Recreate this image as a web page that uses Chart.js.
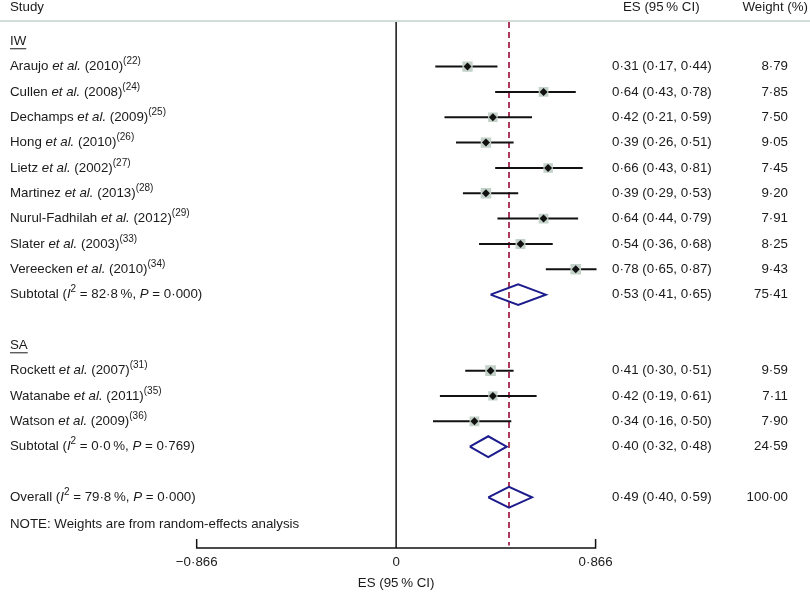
<!DOCTYPE html>
<html>
<head>
<meta charset="utf-8">
<script src="https://cdn.jsdelivr.net/npm/chart.js@4.4.1/dist/chart.umd.min.js"></script>
<style>
  body { margin: 0; background: #fff; }
  canvas { display: block; }
</style>
</head>
<body>
<canvas id="forest" width="810" height="592"></canvas>
<script>
"use strict";

// study level data
const studies = ["Araujo", "Cullen", "Dechamps", "Hong", "Lietz", "Martinez", "Nurul-Fadhilah", "Slater", "Vereecken", "Rockett", "Watanabe", "Watson"];
const years = ["2010", "2008", "2009", "2010", "2002", "2013", "2012", "2003", "2010", "2007", "2011", "2009"];
const refs = ["22", "24", "25", "26", "27", "28", "29", "33", "34", "31", "35", "36"];
const studyGroup = ["IW", "IW", "IW", "IW", "IW", "IW", "IW", "IW", "IW", "SA", "SA", "SA"];
const es = [0.31, 0.64, 0.42, 0.39, 0.66, 0.39, 0.64, 0.54, 0.78, 0.41, 0.42, 0.34];
const lower = [0.17, 0.43, 0.21, 0.26, 0.43, 0.29, 0.44, 0.36, 0.65, 0.30, 0.19, 0.16];
const upper = [0.44, 0.78, 0.59, 0.51, 0.81, 0.53, 0.79, 0.68, 0.87, 0.51, 0.61, 0.50];
const weights = [8.79, 7.85, 7.50, 9.05, 7.45, 9.20, 7.91, 8.25, 9.43, 9.59, 7.11, 7.90];

// subgroup pooled results
const groups = ["IW", "SA"];
const subES = [0.53, 0.40];
const subLower = [0.41, 0.32];
const subUpper = [0.65, 0.48];
const subWeight = [75.41, 24.59];
const subI2 = ["82·8", "0·0"];
const subP = ["0·000", "0·769"];

// overall pooled result
const overallES = 0.49;
const overallLower = 0.40;
const overallUpper = 0.59;
const overallWeight = 100;
const overallI2 = "79·8";
const overallP = "0·000";

const xTicks = [-0.866, 0, 0.866];
const xTickLabels = ["\u22120·866", "0", "0·866"];

// work out which row everything sits on
const rowOf = [];
const groupRow = [];
const subRow = [];
let r = 0;
groups.forEach(function (g) {
  groupRow.push(r++);
  studies.forEach(function (s, i) {
    if (studyGroup[i] === g) rowOf[i] = r++;
  });
  subRow.push(r++);
  r++; // blank line
});
const overallRow = r;
const noteRow = r + 1;
const yTop = -0.76;
const yBottom = noteRow + 1;

const fmt = function (v) {
  return v.toFixed(2).replace(".", "·");
};

const FONT = '"Liberation Sans", Arial, Helvetica, sans-serif';
const TEXT = "#1a1a1a";

function fontFor(p) {
  return (p.it ? "italic " : "") + (p.sup ? "10px " : "13.3px ") + FONT;
}

// draw text made of plain / italic / superscript pieces
function drawRich(ctx, parts, px, py, align) {
  let total = 0;
  parts.forEach(function (p) {
    ctx.font = fontFor(p);
    total += ctx.measureText(p.t).width;
  });
  let cx = px;
  if (align === "right") cx = px - total;
  if (align === "center") cx = px - total / 2;
  parts.forEach(function (p) {
    ctx.font = fontFor(p);
    ctx.fillText(p.t, cx, p.sup ? py - 5 : py);
    cx += ctx.measureText(p.t).width;
  });
  return total;
}

function hetParts(label, i2, p) {
  return [
    { t: label + " (" },
    { t: "I", it: true },
    { t: "2", sup: true },
    { t: " = " + i2 + "\u2009%, " },
    { t: "P", it: true },
    { t: " = " + p + ")" },
  ];
}

const datasets = [];

// confidence interval lines
studies.forEach(function (s, i) {
  datasets.push({
    type: "line",
    showLine: true,
    data: [{ x: lower[i], y: rowOf[i] }, { x: upper[i], y: rowOf[i] }],
    borderColor: "#111",
    borderWidth: 2,
    pointRadius: 0,
    order: 3,
  });
});

// weight squares
datasets.push({
  type: "scatter",
  data: studies.map(function (s, i) { return { x: es[i], y: rowOf[i] }; }),
  pointStyle: "rect",
  pointRadius: weights.map(function (w) { return 2.45 * Math.sqrt(w); }),
  backgroundColor: "#c3d1c9",
  borderWidth: 0,
  order: 2,
});

// point estimates
datasets.push({
  type: "scatter",
  data: studies.map(function (s, i) { return { x: es[i], y: rowOf[i] }; }),
  pointStyle: "rectRot",
  pointRadius: 4,
  backgroundColor: "#111",
  borderWidth: 0,
  order: 1,
});

// pooled diamonds
const diamond = function (e, lo, hi, row) {
  return [
    { x: lo, y: row },
    { x: e, y: row - 0.41 },
    { x: hi, y: row },
    { x: e, y: row + 0.41 },
    { x: lo, y: row },
  ];
};
groups.forEach(function (g, gi) {
  datasets.push({
    type: "line",
    showLine: true,
    data: diamond(subES[gi], subLower[gi], subUpper[gi], subRow[gi]),
    borderColor: "#1c1c8e",
    borderWidth: 2,
    pointRadius: 0,
    fill: false,
    order: 1,
  });
});
datasets.push({
  type: "line",
  showLine: true,
  data: diamond(overallES, overallLower, overallUpper, overallRow),
  borderColor: "#1c1c8e",
  borderWidth: 2,
  pointRadius: 0,
  fill: false,
  order: 1,
});

// line of no effect
datasets.push({
  type: "line",
  showLine: true,
  data: [{ x: 0, y: yTop }, { x: 0, y: yBottom }],
  borderColor: "#111",
  borderWidth: 1.5,
  pointRadius: 0,
  order: 5,
});

// overall estimate dashed line
datasets.push({
  type: "line",
  showLine: true,
  data: [{ x: overallES, y: yTop }, { x: overallES, y: yBottom - 0.1 }],
  borderColor: "#ab3a5c",
  borderWidth: 2,
  borderDash: [6, 4],
  pointRadius: 0,
  order: 4,
});

// x axis with end ticks
datasets.push({
  type: "line",
  showLine: true,
  data: [
    { x: xTicks[0], y: yBottom - 0.36 },
    { x: xTicks[0], y: yBottom },
    { x: xTicks[2], y: yBottom },
    { x: xTicks[2], y: yBottom - 0.36 },
  ],
  borderColor: "#111",
  borderWidth: 1.5,
  pointRadius: 0,
  clip: false,
  order: 5,
});

const textPlugin = {
  id: "forestText",
  afterDraw(chart) {
    const ctx = chart.ctx;
    const xs = chart.scales.x;
    const ys = chart.scales.y;
    const area = chart.chartArea;
    const labelX = 10;
    const esX = 612;
    const wX = 788;

    ctx.save();
    ctx.fillStyle = TEXT;
    ctx.textBaseline = "middle";

    // header
    const hy = ys.getPixelForValue(-1.32);
    drawRich(ctx, [{ t: "Study" }], labelX, hy, "left");
    drawRich(ctx, [{ t: "ES (95\u2009% CI)" }], 623, hy, "left");
    drawRich(ctx, [{ t: "Weight (%)" }], 808, hy, "right");

    ctx.strokeStyle = "#c6d3cc";
    ctx.lineWidth = 1.5;
    ctx.beginPath();
    ctx.moveTo(0, area.top - 1);
    ctx.lineTo(chart.width, area.top - 1);
    ctx.stroke();

    // group headings, underlined
    ctx.strokeStyle = TEXT;
    ctx.lineWidth = 1;
    groups.forEach(function (g, gi) {
      const py = ys.getPixelForValue(groupRow[gi]);
      const w = drawRich(ctx, [{ t: g }], labelX, py, "left");
      ctx.beginPath();
      ctx.moveTo(labelX, py + 7.5);
      ctx.lineTo(labelX + w, py + 7.5);
      ctx.stroke();
    });

    // studies
    studies.forEach(function (s, i) {
      const py = ys.getPixelForValue(rowOf[i]);
      drawRich(ctx, [
        { t: s + " " },
        { t: "et al.", it: true },
        { t: " (" + years[i] + ")" },
        { t: "(" + refs[i] + ")", sup: true },
      ], labelX, py, "left");
      drawRich(ctx, [{ t: fmt(es[i]) + " (" + fmt(lower[i]) + ", " + fmt(upper[i]) + ")" }], esX, py, "left");
      drawRich(ctx, [{ t: fmt(weights[i]) }], wX, py, "right");
    });

    // subtotals
    groups.forEach(function (g, gi) {
      const py = ys.getPixelForValue(subRow[gi]);
      drawRich(ctx, hetParts("Subtotal", subI2[gi], subP[gi]), labelX, py, "left");
      drawRich(ctx, [{ t: fmt(subES[gi]) + " (" + fmt(subLower[gi]) + ", " + fmt(subUpper[gi]) + ")" }], esX, py, "left");
      drawRich(ctx, [{ t: fmt(subWeight[gi]) }], wX, py, "right");
    });

    // overall
    const oy = ys.getPixelForValue(overallRow);
    drawRich(ctx, hetParts("Overall", overallI2, overallP), labelX, oy, "left");
    drawRich(ctx, [{ t: fmt(overallES) + " (" + fmt(overallLower) + ", " + fmt(overallUpper) + ")" }], esX, oy, "left");
    drawRich(ctx, [{ t: fmt(overallWeight) }], wX, oy, "right");

    drawRich(ctx, [{ t: "NOTE: Weights are from random-effects analysis" }], labelX, ys.getPixelForValue(noteRow) + 2, "left");

    // x axis labels
    xTicks.forEach(function (v, i) {
      drawRich(ctx, [{ t: xTickLabels[i] }], xs.getPixelForValue(v), area.bottom + 14, "center");
    });
    drawRich(ctx, [{ t: "ES (95\u2009% CI)" }], xs.getPixelForValue(0), area.bottom + 35, "center");

    ctx.restore();
  },
};

const ctx = document.getElementById("forest");

new Chart(ctx, {
  type: "scatter",
  data: { datasets: datasets },
  options: {
    responsive: false,
    animation: false,
    layout: { padding: { top: 22, bottom: 44, left: 0, right: 0 } },
    plugins: {
      legend: { display: false },
      tooltip: { enabled: false },
    },
    scales: {
      x: { type: "linear", min: -1.687, max: 1.764, display: false },
      y: { type: "linear", min: yTop, max: yBottom, reverse: true, display: false },
    },
  },
  plugins: [textPlugin],
});
</script>
</body>
</html>
